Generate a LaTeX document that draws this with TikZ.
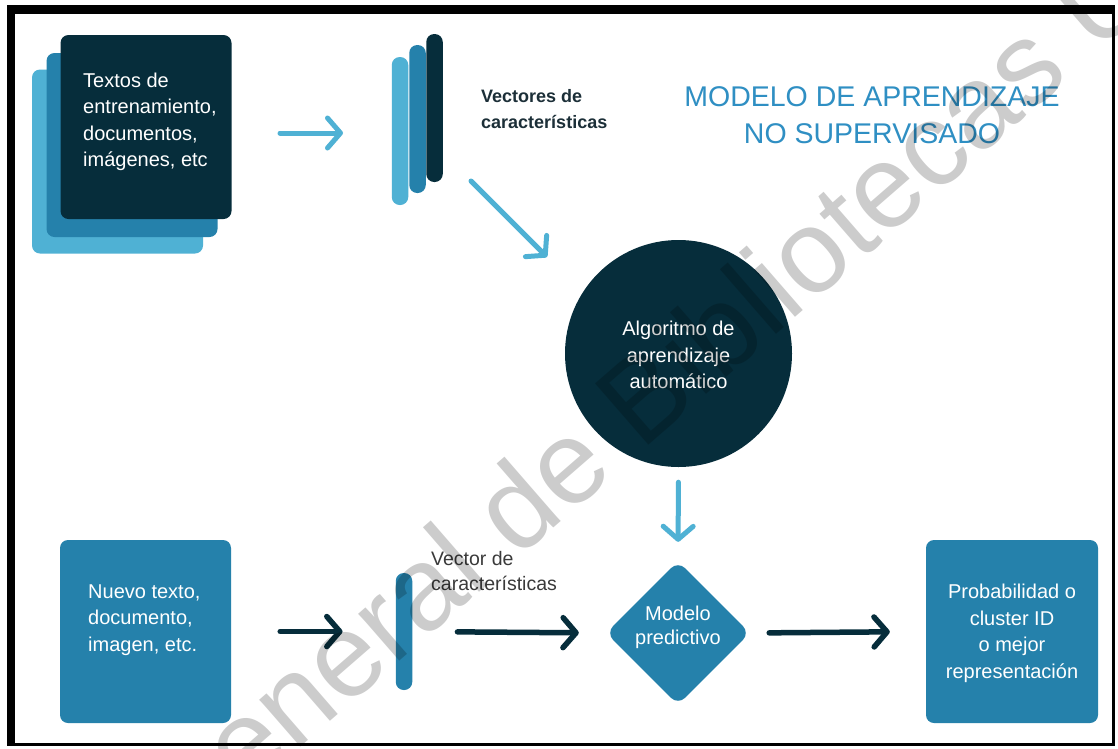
\documentclass[tikz,border=0pt]{standalone}
\usepackage{fontspec}
\setmainfont{Liberation Sans}
\usetikzlibrary{arrows.meta,shapes.geometric}
\definecolor{navy}{HTML}{062D3B}
\definecolor{midblue}{HTML}{2581AB}
\definecolor{skyblue}{HTML}{4FB1D4}
\definecolor{titleblue}{HTML}{2F8FC3}
\definecolor{labelgray}{HTML}{3A3A3A}
\definecolor{headtxt}{HTML}{1C2F38}
\begin{document}
\begin{tikzpicture}[x=1pt,y=-1pt,
  tile/.style={rectangle, rounded corners=8, inner sep=0, minimum width=171, minimum height=184},
  vbar/.style={rectangle, rounded corners=8, inner sep=0, minimum width=16.5, minimum height=148},
  txt/.style={font=\fontsize{20}{26.5}\selectfont, inner sep=0, text=white},
  arrL/.style={draw=skyblue, line width=5, line cap=round, -{Straight Barb[length=13pt,width=30pt,round]}},
  arrD/.style={draw=navy, line width=5.5, line cap=round, -{Straight Barb[length=13pt,width=30pt,round]}},
  wmark/.style={anchor=base west, rotate=41, inner sep=0, font=\fontsize{118}{118}\selectfont, text=black, text opacity=0.2}]
\useasboundingbox (0,0) rectangle (1118,748);
\fill[white] (0,0) rectangle (1118,748);
% frame
\fill[black] (7,5) rectangle (1115,746);
\fill[white] (15,14) rectangle (1112,743);

% stacked documents
\node[tile, fill=skyblue] (tileC) at (117.5,161.5) {};
\node[tile, fill=midblue] (tileB) at (132,145) {};
\node[tile, fill=navy] (tileA) at (146,127) {};
\node[txt, align=left, anchor=west] (tA) at (83,122) {Textos de\\entrenamiento,\\documentos,\\imágenes, etc};

% feature vectors
\node[vbar, fill=skyblue] (barL) at (400,131) {};
\node[vbar, fill=midblue] (barM) at (417.5,119) {};
\node[vbar, fill=navy] (barD) at (434.5,108) {};
\node[font=\bfseries\fontsize{18}{26}\selectfont, text=headtxt, align=left, anchor=west, inner sep=0] (vecs) at (481,109.5) {Vectores de\\características};

% title
\node[font=\fontsize{28.5}{37}\selectfont, text=titleblue, align=center, inner sep=0] (title) at (872,115) {MODELO DE APRENDIZAJE\\NO SUPERVISADO};

% learning algorithm
\node[circle, fill=navy, minimum size=227, inner sep=0] (algo) at (678.5,353.5) {};
\node[txt, align=center] (algoT) at (678.5,355) {Algoritmo de\\aprendizaje\\automático};

% predictive model
\node[diamond, fill=midblue, minimum width=144, minimum height=144, inner sep=0, rounded corners=10] (model) at (678,633) {};
\node[txt, font=\fontsize{20}{24}\selectfont, align=center] (modelT) at (678,627) {Modelo\\predictivo};

% new input
\node[tile, fill=midblue, minimum height=183] (newin) at (145.5,631.5) {};
\node[txt, align=left, anchor=west] (newT) at (88,620) {Nuevo texto,\\documento,\\imagen, etc.};
\node[rectangle, rounded corners=8, inner sep=0, minimum width=16.5, minimum height=117, fill=midblue] (bar2) at (404,631.5) {};
\node[font=\fontsize{19.5}{25}\selectfont, text=labelgray, align=left, anchor=west, inner sep=0] (vecT) at (431,571) {Vector de\\características};

% result
\node[tile, fill=midblue, minimum width=172, minimum height=183] (result) at (1012,631.5) {};
\node[txt, align=center] (resT) at (1012,633.5) {Probabilidad o\\cluster ID\\o mejor\\representación};

% connectors
\coordinate (a1s) at (280,133);
\coordinate (a1e) at (343,133);
\coordinate (a2s) at (471,181);
\coordinate (a2e) at (547,257);
\draw[arrL] (a1s) -- (a1e);
\draw[arrL] (a2s) -- (a2e);
\draw[arrL, shorten <=15, shorten >=19] (algo.south) -- (model.north);
\draw[arrD, shorten <=49, shorten >=53] (newin.east) -- (bar2.west);
\draw[arrD, shorten <=45, shorten >=27] (bar2.east) -- (model.west);
\draw[arrD, shorten <=19, shorten >=36] (model.east) -- (result.west);

% library watermark
\begin{scope}
\clip (0,0) rectangle (1118,748);
\node[wmark] (wm) at (176,856) {General de Bibliotecas UNAM};
\end{scope}
\end{tikzpicture}
\end{document}
